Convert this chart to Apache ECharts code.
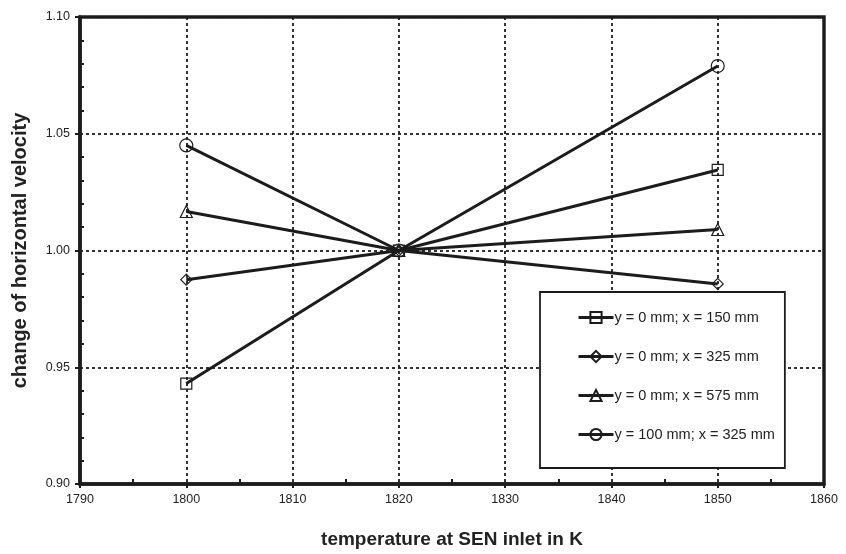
<!DOCTYPE html>
<html>
<head>
<meta charset="utf-8">
<script src="https://cdn.jsdelivr.net/npm/echarts@6/dist/echarts.min.js"></script>
<style>
  html, body { margin: 0; padding: 0; background: #fff; }
  #chart { width: 846px; height: 554px; }
</style>
</head>
<body>
<div id="chart"></div>
<script>
// Inlet temperatures (K)
const temperatures = [1800, 1820, 1850];

// Relative change of horizontal velocity at each monitoring point
const seriesNames = [
  'y = 0 mm; x = 150 mm',
  'y = 0 mm; x = 325 mm',
  'y = 0 mm; x = 575 mm',
  'y = 100 mm; x = 325 mm'
];
const velY0X150 = [0.943, 1.000, 1.0345];
const velY0X325 = [0.9875, 1.000, 0.9857];
const velY0X575 = [1.0167, 1.000, 1.009];
const velY100X325 = [1.045, 1.000, 1.079];

const seriesValues = [velY0X150, velY0X325, velY0X575, velY100X325];
const seriesSymbols = ['rect', 'diamond', 'triangle', 'circle'];
const symbolSizes = [11, 11, 12, 13];

const ink = '#1c1c1c';
const font = 'Liberation Sans, Arial, sans-serif';

const chart = echarts.init(document.getElementById('chart'), null, { renderer: 'canvas' });

const series = seriesNames.map((name, i) => ({
  name: name,
  type: 'line',
  data: temperatures.map((t, j) => [t, seriesValues[i][j]]),
  symbol: seriesSymbols[i],
  symbolSize: symbolSizes[i],
  showAllSymbol: true,
  lineStyle: { color: ink, width: 3 },
  itemStyle: { color: 'rgba(255,255,255,0)', borderColor: ink, borderWidth: 1.2 },
  emphasis: { disabled: true },
  z: 3
}));

chart.setOption({
  animation: false,
  backgroundColor: '#fff',
  grid: {
    left: 80, right: 22, top: 17, bottom: 70,
    show: true, borderColor: ink, borderWidth: 3.5, backgroundColor: 'transparent'
  },
  legend: {
    orient: 'vertical',
    left: 540, top: 292,
    padding: [18, 10, 26, 37],
    itemGap: 24,
    itemWidth: 35, itemHeight: 14,
    backgroundColor: '#fff',
    borderColor: ink, borderWidth: 1.8, borderRadius: 0,
    textStyle: { fontFamily: font, fontSize: 14.5, color: '#222', padding: [0, 0, 0, -4] },
    lineStyle: { width: 3, color: ink },
    selectedMode: false,
    data: seriesNames
  },
  xAxis: {
    type: 'value',
    min: 1790, max: 1860, interval: 10,
    name: 'temperature at SEN inlet in K',
    nameLocation: 'middle', nameGap: 46,
    nameTextStyle: { fontFamily: font, fontSize: 19, fontWeight: 'bold', color: '#222' },
    axisLine: { show: true, onZero: false, lineStyle: { color: ink, width: 3.5 } },
    axisTick: { show: true, inside: false, length: 4, lineStyle: { color: ink, width: 2 } },
    minorTick: { show: true, splitNumber: 2, length: -5, lineStyle: { color: ink, width: 2 } },
    axisLabel: { fontFamily: font, fontSize: 12.5, color: '#222', margin: 9, formatter: v => String(v) },
    splitLine: { show: true, lineStyle: { color: ink, width: 1.8, type: [3, 3] } }
  },
  yAxis: {
    type: 'value',
    min: 0.90, max: 1.10, interval: 0.05,
    name: 'change of horizontal velocity',
    nameLocation: 'middle', nameGap: 50, nameRotate: 90,
    nameTextStyle: { fontFamily: font, fontSize: 20, fontWeight: 'bold', color: '#222' },
    axisLine: { show: true, onZero: false, lineStyle: { color: ink, width: 3.5 } },
    axisTick: { show: true, inside: false, length: 5, lineStyle: { color: ink, width: 2 } },
    minorTick: { show: true, splitNumber: 5, length: -4, lineStyle: { color: ink, width: 2 } },
    axisLabel: {
      fontFamily: font, fontSize: 12.5, color: '#222', margin: 10,
      formatter: v => v.toFixed(2)
    },
    splitLine: { show: true, lineStyle: { color: ink, width: 1.8, type: [3, 3] } }
  },
  series: series
});
</script>
</body>
</html>
